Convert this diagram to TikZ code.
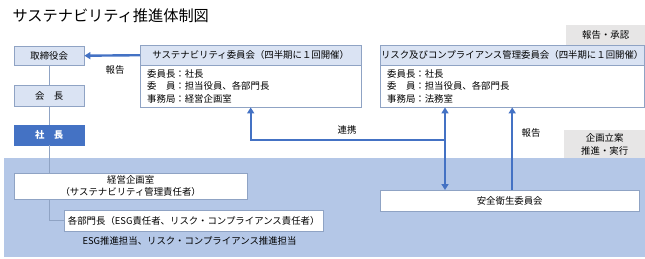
\documentclass[tikz,border=0pt]{standalone}
\usepackage{fontspec}
\setmainfont{Noto Sans CJK JP}
\usetikzlibrary{arrows.meta}
\definecolor{boxline}{HTML}{8FA3C4}
\definecolor{headfill}{HTML}{DAE3F3}
\definecolor{darkblue}{HTML}{4472C4}
\definecolor{areablue}{HTML}{B4C7E7}
\definecolor{tabgrey}{HTML}{E7E6E6}

\begin{document}
\begin{tikzpicture}[x=1pt,y=-1pt,
    font=\fontsize{9.4}{12.5}\selectfont,
    box/.style={draw=boxline, fill=white, inner sep=0pt, anchor=north west},
    headbox/.style={box, fill=headfill},
    tab/.style={fill=tabgrey, inner sep=0pt, anchor=north west, align=center},
    arr/.style={draw=darkblue, line width=2.4pt, -{Triangle[length=6pt,width=7pt]}},
    link/.style={draw=boxline, line width=0.8pt}]
  \useasboundingbox (0,0) rectangle (645,258);
  % title
  \node[anchor=west, font=\fontsize{15.2}{18}\selectfont] (title) at (9,16) {サステナビリティ推進体制図};
  % blue execution area
  \fill[areablue] (4,158) rectangle (645,257);
  \node[tab, minimum width=79pt, minimum height=20pt] (tabtop) at (566,25) {報告・承認};
  \node[tab, minimum width=81pt, minimum height=28pt] (tabmid) at (564,130) {企画立案\\推進・実行};
  % left column
  \node[headbox, minimum width=70pt, minimum height=19pt] (board) at (14,46) {取締役会};
  \node[headbox, minimum width=70pt, minimum height=21pt] (chair) at (14,85) {会　長};
  \node[box, fill=darkblue, draw=darkblue, text=white, font=\fontsize{9.4}{12.5}\selectfont\bfseries,
        minimum width=70pt, minimum height=20pt] (pres) at (14,125) {社　長};
  % committees
  \node[headbox, minimum width=221pt, minimum height=20pt] (susH) at (140,45) {サステナビリティ委員会（四半期に１回開催）};
  \node[box, text width=207pt, inner xsep=7pt, minimum height=42pt, align=left] (susB) at (140,65)
    {委員長：社長\\委　員：担当役員、各部門長\\事務局：経営企画室};
  \node[headbox, minimum width=264pt, minimum height=20pt] (riskH) at (380,45) {リスク及びコンプライアンス管理委員会（四半期に１回開催）};
  \node[box, text width=250pt, inner xsep=7pt, minimum height=42pt, align=left] (riskB) at (380,65)
    {委員長：社長\\委　員：担当役員、各部門長\\事務局：法務室};
  \node[box, minimum width=259pt, minimum height=21pt] (anzen) at (380,190) {安全衛生委員会};
  % execution
  \node[box, minimum width=233pt, minimum height=26pt, align=center] (keiei) at (14,173)
    {経営企画室\\（サステナビリティ管理責任者）};
  \node[box, minimum width=259pt, minimum height=21pt] (bumon) at (64,210)
    {各部門長（ESG責任者、リスク・コンプライアンス責任者）};
  \node[anchor=west] (tanto) at (79,241) {ESG推進担当、リスク・コンプライアンス推進担当};
  % line of command
  \draw[link] (board) -- (chair);
  \draw[link] (chair) -- (pres);
  \draw[link] (pres) -- (pres |- keiei.north);
  \draw[link] (keiei.south -| pres) |- (bumon.west);
  % reports and cooperation
  \coordinate (linkpt) at (445,140);
  \draw[arr] (susH.west) -- (board.east);
  \node (rep1) at (115,70) {報告};
  \draw[arr] (linkpt) -| (susB.south);
  \draw[arr] (linkpt) -- (linkpt |- riskB.south);
  \draw[arr] (linkpt) -- (linkpt |- anzen.north);
  \node (renkei) at (347,130) {連携};
  \draw[arr] (riskB.south |- anzen.north) -- (riskB.south);
  \node (rep2) at (531,133) {報告};
\end{tikzpicture}
\end{document}
